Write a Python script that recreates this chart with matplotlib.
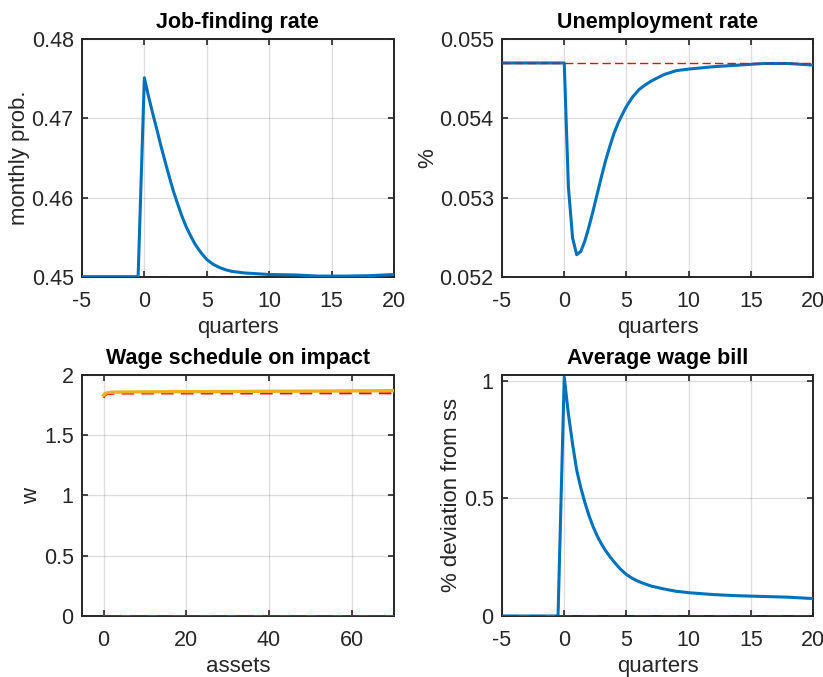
import numpy as np
import matplotlib
matplotlib.use("Agg")
import matplotlib.pyplot as plt
from matplotlib.ticker import FormatStrFormatter

plt.rcParams['font.family'] = ['Liberation Sans', 'DejaVu Sans']

# MATLAB default line colours
BLUE = '#0072BD'
ORANGE = '#EDB120'
DARKRED = '#A2142F'
AXC = '#262626'

# Job-finding rate (monthly prob.)
t_jf = [-5, -0.5, 0, 0.33, 0.67, 1, 1.33, 1.67, 2, 2.33, 2.67, 3, 3.33,
        3.67, 4, 4.33, 4.67, 5, 5.5, 6, 6.5, 7, 8, 9, 10, 12, 14, 16, 18, 20]
jf = [0.45003, 0.45003, 0.4751, 0.4728, 0.4706, 0.4686, 0.4665, 0.4645,
      0.4626, 0.4608, 0.4592, 0.4577, 0.4564, 0.4553, 0.4543, 0.4535,
      0.4528, 0.4522, 0.4516, 0.4512, 0.4509, 0.4507, 0.4505, 0.4504,
      0.4503, 0.45025, 0.4501, 0.4501, 0.45015, 0.4503]
jf_ss = 0.45

# Unemployment rate
t_u = [-5, 0, 0.33, 0.67, 1, 1.33, 1.67, 2, 2.33, 2.67, 3, 3.33, 3.67, 4,
       4.33, 4.67, 5, 5.5, 6, 6.5, 7, 7.5, 8, 9, 10, 12, 14, 16, 18, 20]
u = [0.054697, 0.054697, 0.05314, 0.05249, 0.05228, 0.05232, 0.05246,
     0.05264, 0.05284, 0.05306, 0.05327, 0.05347, 0.05365, 0.05381,
     0.05394, 0.05405, 0.05415, 0.05427, 0.05436, 0.05442, 0.05447,
     0.05451, 0.05455, 0.05460, 0.05462, 0.05465, 0.05467, 0.05469,
     0.05469, 0.05467]
u_ss = 0.054697

# Wage schedule on impact over assets
assets = [0, 0.25, 0.5, 1, 2, 3, 5, 10, 20, 30, 40, 50, 60, 70]
w_impact = [1.832, 1.843, 1.848, 1.853, 1.857, 1.858, 1.859, 1.860, 1.862,
            1.863, 1.865, 1.866, 1.868, 1.870]
w_ss = [1.810, 1.828, 1.835, 1.842, 1.845, 1.846, 1.846, 1.847, 1.847,
        1.847, 1.847, 1.848, 1.848, 1.848]
w_zero = [0] * len(assets)

# Average wage bill, % deviation from ss
t_wb = [-5, -0.5, 0, 0.33, 0.67, 1, 1.33, 1.67, 2, 2.33, 2.67, 3, 3.33,
        3.67, 4, 4.5, 5, 5.5, 6, 6.5, 7, 8, 9, 10, 12, 14, 16, 18, 20]
wb = [0, 0, 1.015, 0.86, 0.73, 0.62, 0.545, 0.48, 0.425, 0.378, 0.338,
      0.305, 0.277, 0.252, 0.23, 0.2, 0.176, 0.159, 0.146, 0.136, 0.127,
      0.115, 0.105, 0.099, 0.091, 0.086, 0.083, 0.080, 0.074]
wb_ss = 0


def style(ax, xlim, ylim, yticks, xticks, xlabel, ylabel, title):
    ax.set_xlim(*xlim)
    ax.set_ylim(*ylim)
    ax.set_xticks(xticks)
    ax.set_yticks(yticks)
    ax.yaxis.set_major_formatter(FormatStrFormatter('%g'))
    ax.xaxis.set_major_formatter(FormatStrFormatter('%g'))
    ax.grid(True, color=AXC, alpha=0.15, lw=1.0)
    ax.set_axisbelow(True)
    ax.tick_params(direction='in', length=4, width=1.2, colors=AXC,
                   labelsize=15.5, top=True, right=True, pad=10)
    ax.tick_params(axis='y', pad=6)
    for s in ax.spines.values():
        s.set_color(AXC)
        s.set_linewidth(1.4)
    ax.set_xlabel(xlabel, fontsize=16, color=AXC, labelpad=4)
    ax.set_ylabel(ylabel, fontsize=16, color=AXC, labelpad=1)
    ax.set_title(title, fontsize=15.5, fontweight='bold', pad=8)


fig = plt.figure(figsize=(8.23, 6.77), dpi=100)

ax1 = fig.add_axes([0.0996, 0.591, 0.379, 0.3515])
ax1.plot(t_jf, jf, color=BLUE, lw=2.2, zorder=3)
ax1.plot([-5, 20], [jf_ss, jf_ss], color='r', lw=1.0, dashes=(6, 8), zorder=2)
style(ax1, (-5, 20), (0.45, 0.48), [0.45, 0.46, 0.47, 0.48],
      [-5, 0, 5, 10, 15, 20], 'quarters', 'monthly prob.', 'Job-finding rate')

ax2 = fig.add_axes([0.61, 0.591, 0.378, 0.3515])
ax2.plot(t_u, u, color=BLUE, lw=2.2, zorder=3)
ax2.plot([-5, 20], [u_ss, u_ss], color='r', lw=1.0, dashes=(6, 3), zorder=4)
style(ax2, (-5, 20), (0.052, 0.055), [0.052, 0.053, 0.054, 0.055],
      [-5, 0, 5, 10, 15, 20], 'quarters', '%', 'Unemployment rate')

ax3 = fig.add_axes([0.0996, 0.0901, 0.379, 0.356])
ax3.plot(assets, w_zero, color=BLUE, lw=2.0, zorder=3)
ax3.plot(assets, w_zero, color=DARKRED, lw=2.0, dashes=(6, 3.5), zorder=4)
ax3.plot(assets, w_impact, color=ORANGE, lw=2.4, zorder=3)
ax3.plot(assets, w_ss, color='r', lw=1.5, dashes=(6, 3.5), zorder=2)
style(ax3, (-5.24, 70.2), (0, 2), [0, 0.5, 1, 1.5, 2],
      [0, 20, 40, 60], 'assets', 'w', 'Wage schedule on impact')

ax4 = fig.add_axes([0.61, 0.0901, 0.378, 0.356])
ax4.plot(t_wb, wb, color=BLUE, lw=2.2, zorder=3)
ax4.plot([-5, 20], [wb_ss, wb_ss], color=DARKRED, lw=2.0, dashes=(6, 3.5),
         zorder=4)
style(ax4, (-5, 20), (0, 1.024), [0, 0.5, 1],
      [-5, 0, 5, 10, 15, 20], 'quarters', '% deviation from ss',
      'Average wage bill')

fig.savefig('out.png', dpi=100)
